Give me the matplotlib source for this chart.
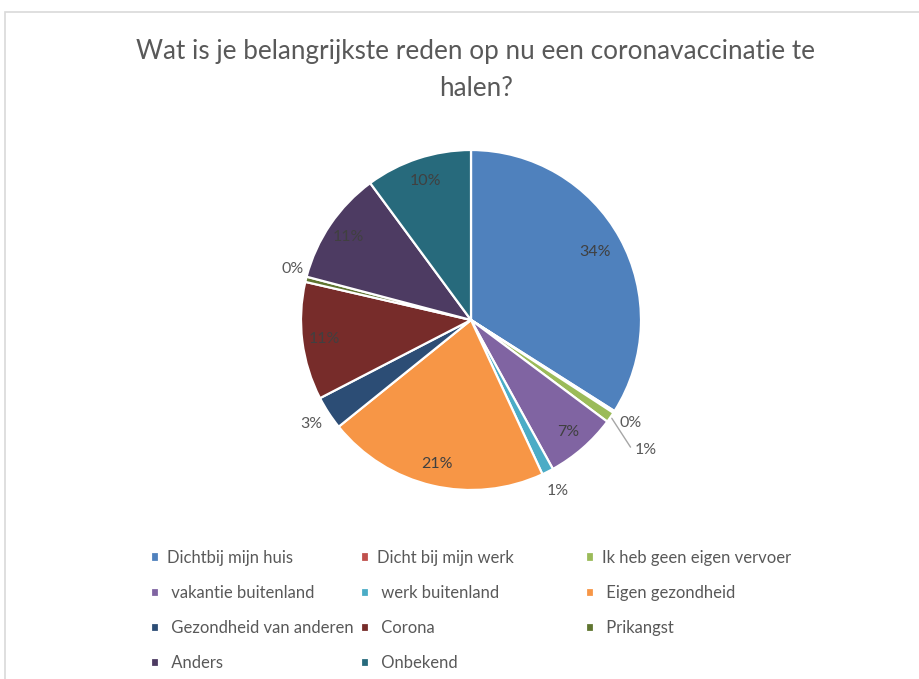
import numpy as np
import matplotlib.pyplot as plt
from matplotlib.patches import Rectangle

plt.rcParams['font.family'] = ['Lato', 'DejaVu Sans']

categories = ['Dichtbij mijn huis', 'Dicht bij mijn werk', 'Ik heb geen eigen vervoer',
              ' vakantie buitenland', ' werk buitenland', ' Eigen gezondheid',
              ' Gezondheid van anderen', ' Corona', ' Prikangst',
              ' Anders', ' Onbekend']
values = [34.0, 0.2, 1.0, 6.8, 1.1, 21.1, 3.2, 11.2, 0.5, 10.8, 10.1]
pct_labels = ['34%', '0%', '1%', '7%', '1%', '21%', '3%', '11%', '0%', '11%', '10%']
colors = ['#4F81BD', '#C0504D', '#9BBB59', '#8064A2', '#4BACC6', '#F79646',
          '#2C4D75', '#772C2A', '#5F7530', '#4D3B62', '#276A7C']

W, H = 919, 679
fig = plt.figure(figsize=(W / 100, H / 100), dpi=100)

# chart frame
fig.add_artist(Rectangle((5 / W, -0.1), 1.2, 1 - 12 / H + 0.1, transform=fig.transFigure,
                         fill=False, edgecolor='#D9D9D9', linewidth=1.2))

fig.text(476 / W, 1 - 51 / H, 'Wat is je belangrijkste reden op nu een coronavaccinatie te',
         ha='center', va='center', fontsize=18.8, color='#595959')
fig.text(476 / W, 1 - 88 / H, 'halen?', ha='center', va='center', fontsize=18.8, color='#595959')

cx, cy, r = 471, 320, 170
ax = fig.add_axes([(cx - r) / W, 1 - (cy + r) / H, 2 * r / W, 2 * r / H])
wedges, _ = ax.pie(values, colors=colors, startangle=90, counterclock=False,
                   wedgeprops=dict(edgecolor='white', linewidth=1.6))
ax.set_xlim(-1, 1)
ax.set_ylim(-1, 1)
ax.set_aspect('equal')

dist = [0.83, 1.12, 1.23, 0.87, 1.13, 0.87, 1.12, 0.87, 1.09, 0.87, 0.86]
for i, w in enumerate(wedges):
    a = np.deg2rad((w.theta1 + w.theta2) / 2)
    inside = dist[i] < 1
    col = '#404040' if inside else '#595959'
    if i == 2:
        # moved label with a leader line
        ex, ey = 1.01 * np.cos(a), 1.01 * np.sin(a)
        a2 = a - np.deg2rad(3.5)
        x, y = dist[i] * np.cos(a2), dist[i] * np.sin(a2)
        ax.annotate(pct_labels[i], xy=(ex, ey), xytext=(x, y), ha='left', va='center',
                    fontsize=11.5, color=col, annotation_clip=False,
                    arrowprops=dict(arrowstyle='-', color='#A6A6A6', lw=1,
                                    connectionstyle='angle,angleA=0,angleB=-57,rad=0',
                                    relpos=(0, 0.5), shrinkA=2, shrinkB=0))
    else:
        if i == 8:
            a = a - np.deg2rad(2)
        x, y = dist[i] * np.cos(a), dist[i] * np.sin(a)
        ax.text(x, y, pct_labels[i], ha='center', va='center', fontsize=11.5, color=col)

# legend in three columns, row-major order
col_x = [151, 361, 586]
for c in range(3):
    idx = list(range(c, len(categories), 3))
    fig.legend([wedges[i] for i in idx], [categories[i] for i in idx],
               loc='upper left', bbox_to_anchor=(col_x[c] / W, 1 - 550 / H),
               frameon=False, fontsize=12, labelcolor='#595959',
               handlelength=0.5, handleheight=0.5, handletextpad=0.45,
               labelspacing=1.15, borderpad=0, borderaxespad=0)

plt.savefig('out.png', dpi=100)
